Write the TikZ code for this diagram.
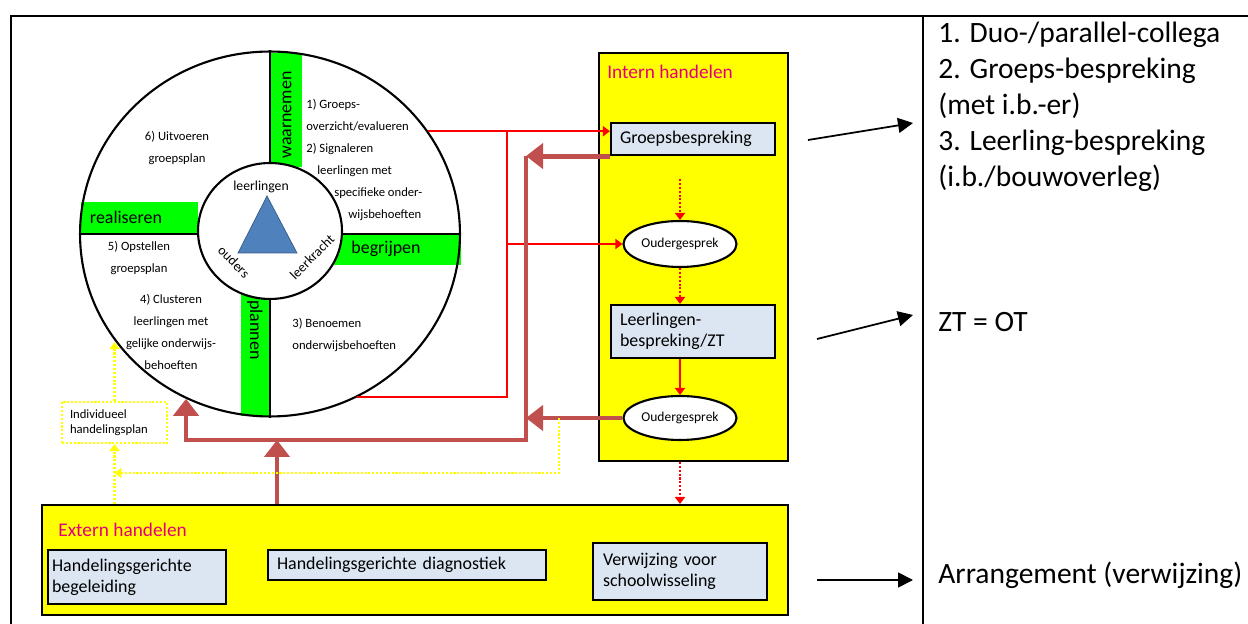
\documentclass[tikz,border=0pt]{standalone}
\usepackage{fontspec}
\setmainfont{Carlito}
\usetikzlibrary{arrows.meta,shapes.geometric}
\definecolor{brn}{HTML}{C0504D}
\definecolor{bx}{HTML}{DCE6F2}
\definecolor{mag}{HTML}{E4007C}
\definecolor{grn}{HTML}{00FF00}
\definecolor{ylw}{HTML}{FFFF00}
\definecolor{tri}{HTML}{4F81BD}

\begin{document}
\begin{tikzpicture}[x=0.02cm, y=-0.02cm,
    box/.style = {draw, line width=1.2pt, fill=bx, align=left, inner ysep=0pt, font=\fontsize{10.2}{12}\selectfont},
    oval/.style = {draw, ellipse, line width=1.2pt, fill=white, inner sep=0pt, minimum width=2.26cm, font=\fontsize{7.7}{9}\selectfont},
    area/.style = {draw, line width=1.2pt, fill=ylw},
    ttl/.style = {text=mag, inner sep=0pt, font=\fontsize{11}{13}\selectfont},
    bartxt/.style = {inner sep=0pt, font=\fontsize{10.2}{12}\selectfont},
    small/.style = {inner sep=0pt, font=\fontsize{7.2}{12.5}\selectfont},
    hubtxt/.style = {inner sep=0pt, font=\fontsize{7.8}{9}\selectfont},
    side/.style = {inner sep=0pt, align=left, font=\fontsize{16.8}{20.5}\selectfont},
    rline/.style = {red, line width=1.1pt},
    rdot/.style = {red, line width=1.2pt, dash pattern=on 1.2pt off 1pt},
    bline/.style = {brn, line width=2.8pt},
    yline/.style = {ylw, line width=1.2pt, dash pattern=on 1.2pt off 1pt},
    rarr/.style = {-{Triangle[width=0.2cm, length=0.14cm]}},
    barr/.style = {-{Triangle[width=0.5cm, length=0.34cm]}},
    karr/.style = {-{Triangle[width=0.3cm, length=0.3cm]}}]
    \useasboundingbox (0,0) rectangle (1248,624);
    \draw[line width=1.2pt] (11,624) -- (11,16) -- (1248,16);
    \draw[line width=1.2pt] (923,16) -- (923,624);

    \node[area, minimum width=3.78cm, minimum height=8.16cm] (int) at (693.5,257) {};
    \node[ttl, anchor=base west] (intt) at (607,79) {Intern handelen};
    \node[area, minimum width=14.92cm, minimum height=2.2cm] (ext) at (415,560) {};
    \node[ttl, anchor=base west] (extt) at (58,537) {Extern handelen};

    \node[box, text width=2.92cm, inner xsep=0.18cm, minimum height=0.64cm] (gb) at (693,139) {Groepsbespreking};
    \node[oval, minimum height=0.92cm] (og1) at (680,244) {Oudergesprek};
    \node[box, text width=2.92cm, inner xsep=0.18cm, minimum height=1.06cm] (lb) at (693,331.5) {Leerlingen-\\bespreking/ZT};
    \node[oval, minimum height=0.88cm] (og2) at (680,418) {Oudergesprek};
    \node[box, text width=3.4cm, inner xsep=0.08cm, minimum height=1.08cm] (hgb) at (137,577) {Handelingsgerichte\\begeleiding};
    \node[box, text width=5.2cm, inner xsep=0.18cm, minimum height=0.6cm] (hgd) at (407,565) {Handelingsgerichte diagnostiek};
    \node[box, text width=3.08cm, inner xsep=0.2cm, minimum height=1.14cm] (vws) at (680,571.5) {Verwijzing voor\\schoolwisseling};
    \node[draw=ylw, line width=1.2pt, dash pattern=on 1.2pt off 1pt, align=left, text width=1.78cm, inner xsep=0.16cm, inner ysep=0pt, minimum height=0.82cm, font=\fontsize{7.2}{8.5}\selectfont] (ihp) at (114.5,422.5) {Individueel\\handelingsplan};

    \fill[grn] (270,53) rectangle (302,167);
    \fill[grn] (333,233) rectangle (461,265);
    \fill[grn] (241,293) rectangle (270,416);
    \fill[grn] (81,202) rectangle (198,233);
    \node[draw, ellipse, line width=1.2pt, inner sep=0pt, minimum width=7.6cm, minimum height=7.3cm] (wheel) at (270,234) {};
    \draw[line width=1.2pt] (wheel.north) -- (wheel.south);
    \draw[line width=1.2pt] (wheel.west) -- (wheel.east);
    \node[draw, ellipse, line width=1.2pt, fill=white, inner sep=0pt, minimum width=2.88cm, minimum height=2.72cm] (hub) at (270,231) {};
    \filldraw[fill=tri, draw=tri!70!black, thin] (267,196) -- (238,253) -- (297,253) -- cycle;
    \node[hubtxt] (ll) at (261,187) {leerlingen};
    \node[hubtxt, rotate=-45] (od) at (234,262) {ouders};
    \node[hubtxt, rotate=45] (lk) at (312,257) {leerkracht};

    \node[bartxt, rotate=90] (wrn) at (287,115) {waarnemen};
    \node[bartxt] (bgr) at (386,249) {begrijpen};
    \node[bartxt, rotate=-90] (pln) at (255,330) {plannen};
    \node[bartxt] (rls) at (126,217) {realiseren};

    \node[small, align=left, anchor=west] (s12) at (306,160) {1) Groeps-\\overzicht/evalueren\\2) Signaleren\\\hspace*{0.22cm}leerlingen met\\\hspace*{0.56cm}specifieke onder-\\\hspace*{0.84cm}wijsbehoeften};
    \node[small, align=center] (s6) at (177,147.5) {6) Uitvoeren\\groepsplan};
    \node[small, align=center] (s5) at (139,257.5) {5) Opstellen\\groepsplan};
    \node[small, align=center] (s4) at (171,331.5) {4) Clusteren\\leerlingen met\\gelijke onderwijs-\\behoeften};
    \node[small, align=left, anchor=west] (s3) at (292,335) {3) Benoemen\\onderwijsbehoeften};

    \node[side, anchor=north west] (lst) at (938,22) {1. Duo-/parallel-collega\\2. Groeps-bespreking\\(met i.b.-er)\\3. Leerling-bespreking\\(i.b./bouwoverleg)};
    \node[side, anchor=west] (zt) at (938,322) {ZT = OT};
    \node[side, anchor=west] (arr) at (938,575) {Arrangement (verwijzing)};

    \coordinate (rv) at (507,0);
    \coordinate (bv) at (526,0);
    \coordinate (bh) at (0,440);
    \coordinate (bu) at (277,0);
    \coordinate (ys) at (559,418);
    \coordinate (yk) at (559,473);
    \coordinate (k1) at (808,140);
    \coordinate (k1t) at (913,123);
    \coordinate (k2) at (817,339);
    \coordinate (k2t) at (913,315);
    \coordinate (k3) at (817,580);
    \coordinate (k3t) at (913,580);

    \draw[rline, rarr] (wheel.33) -- (wheel.33 -| gb.west);
    \draw[rline] (wheel.-62) -| (wheel.33 -| rv);
    \draw[rline, rarr] (og1.west -| rv) -- (og1.west);
    \draw[rdot, rarr, shorten <=0.46cm] (og1.north |- gb.south) -- (og1.north);
    \draw[rdot, rarr] (og1.south) -- (og1.south |- lb.north);
    \draw[rline, rarr] (og2.north |- lb.south) -- (og2.north);
    \draw[rdot, rarr] (og2.south |- int.south) -- (og2.south |- ext.north);

    \draw[bline, barr] (gb.south west) -- (gb.south west -| bv);
    \draw[bline, barr] (og2.west) -- (og2.west -| bv);
    \draw[bline, barr] (gb.south west -| bv) |- (wheel.243 |- bh) -- (wheel.243);
    \draw[bline, barr] (ext.north -| bu) -- (bu |- bh);

    \draw[yline, rarr] (ihp.south |- ext.north) -- (ihp.south);
    \draw[yline, rarr] (ihp.north) -- (ihp.north |- wheel.215);
    \draw[yline, rarr] (ys) -- (yk) -- (yk -| ihp.south);

    \draw[line width=1pt, karr] (k1) -- (k1t);
    \draw[line width=1pt, karr] (k2) -- (k2t);
    \draw[line width=1pt, karr] (k3) -- (k3t);
\end{tikzpicture}
\end{document}
